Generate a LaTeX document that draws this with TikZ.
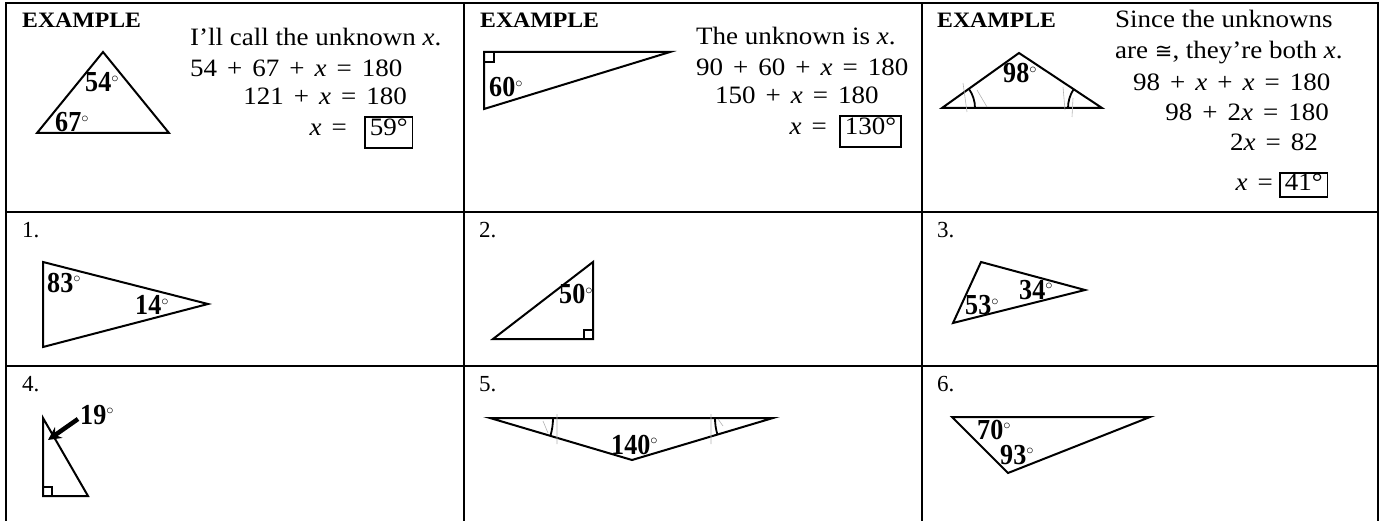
\documentclass[tikz,border=0pt]{standalone}
\usepackage{fontspec}
\setmainfont{Liberation Serif}
\newfontfamily\cambfont{Liberation Serif}[FakeStretch=1.08]
\newfontfamily\labfont{Liberation Serif}[FakeStretch=0.9]
\newfontfamily\symfont{DejaVu Sans}
\usetikzlibrary{positioning,arrows.meta}
\newcommand\gp{\hspace{0.4em}}
\newcommand\opp{\gp+\gp}
\newcommand\oeq{\gp=\gp}
\newcommand\vx{\textit{x}}
\newcommand\dg{$^{\scriptscriptstyle\circ}$}

\begin{document}
\begin{tikzpicture}[
    x=1pt, y=-1pt,
    grid/.style={line width=2.2pt, line cap=rect},
    tri/.style={line width=2pt, line join=miter},
    ang/.style={line width=1.8pt},
    ghost/.style={line width=0.6pt, draw=black!30},
    head/.style={anchor=base west, inner sep=0pt, font=\cambfont\bfseries\fontsize{22}{26}\selectfont},
    txt/.style={anchor=base west, inner sep=0pt, font=\cambfont\fontsize{25}{28}\selectfont},
    num/.style={anchor=base west, inner sep=0pt, font=\fontsize{23}{26}\selectfont},
    lab/.style={anchor=base west, inner sep=0pt, font=\labfont\bfseries\fontsize{29}{30}\selectfont},
    ans/.style={draw, line width=1.5pt, anchor=base west, inner xsep=5pt, inner ysep=0pt, text height=19pt, text depth=12pt, font=\cambfont\fontsize{25}{28}\selectfont},
    arr/.style={-{Stealth[length=13pt, width=13pt]}, line width=4.5pt},
]
    \useasboundingbox (0,0) rectangle (1381,521);

    % --- Table grid ---
    \draw[grid] (6,3) -- (1378,3);
    \draw[grid] (6,212) -- (1378,212);
    \draw[grid] (6,366) -- (1378,366);
    \foreach \cx in {6,464,922,1378}
        \draw[grid] (\cx,3) -- (\cx,521);

    % --- Example 1 ---
    \node[head] (h1) at (22,28) {EXAMPLE};
    \coordinate (e1a) at (103,52);
    \coordinate (e1b) at (37,133);
    \coordinate (e1c) at (169,133);
    \draw[tri] (e1a) -- (e1b) -- (e1c) -- cycle;
    \node[lab] (e1p) at (85,92) {54\dg};
    \node[lab] (e1q) at (55,132) {67\dg};
    \node[txt] (c1l1) at (190,46) {I’ll call the unknown \vx.};
    \node[txt] (c1l2) at (190,77) {54\opp67\opp\vx\oeq180};
    \node[txt, anchor=base east] (c1l3) at (407,105) {121\opp\vx\oeq180};
    \node[txt, anchor=base east] (c1l4) at (347,136) {\vx\gp=};
    \node[ans] (c1ans) at (364,136) {59°};

    % --- Example 2 ---
    \node[head] (h2) at (480,28) {EXAMPLE};
    \coordinate (e2a) at (484,52);
    \coordinate (e2b) at (670,52);
    \coordinate (e2c) at (484,109);
    \draw[tri] (e2a) -- (e2b) -- (e2c) -- cycle;
    \draw[line width=1.5pt] (e2a) rectangle ++(10,10);
    \node[lab] (e2p) at (489,97) {60\dg};
    \node[txt] (c2l1) at (696,45) {The unknown is \vx.};
    \node[txt] (c2l2) at (696,76) {90\opp60\opp\vx\oeq180};
    \node[txt] (c2l3) at (715,104) {150\opp\vx\oeq180};
    \node[txt, anchor=base east] (c2l4) at (827,135) {\vx\gp=};
    \node[ans] (c2ans) at (839,135) {130°};

    % --- Example 3 ---
    \node[head] (h3) at (937,28) {EXAMPLE};
    \coordinate (e3a) at (1019,53);
    \coordinate (e3b) at (942,108);
    \coordinate (e3c) at (1102,108);
    \draw[tri] (e3a) -- (e3b) -- (e3c) -- cycle;
    \draw[ang] (e3b) ++(0:33) arc[start angle=0, end angle=-35.5, radius=33];
    \draw[ang] (e3c) ++(180:34) arc[start angle=180, end angle=213.5, radius=34];
    \draw[ghost] (963,83) -- (967,112) (977,90) -- (987,107);
    \draw[ghost] (1063,87) -- (1065,110) (1073,98) -- (1072,117);
    \node[lab] (e3p) at (1003,83) {98\dg};
    \node[txt] (c3l1) at (1115,28) {Since the unknowns};
    \node[txt] (c3l2) at (1115,59) {are {\symfont\fontsize{21}{26}\selectfont ≅}, they’re both \vx.};
    \node[txt] (c3l3) at (1133,91) {98\opp\vx\opp\vx\oeq180};
    \node[txt, anchor=base east] (c3l4) at (1329,121) {98\opp2\vx\oeq180};
    \node[txt, anchor=base east] (c3l5) at (1318,151) {2\vx\oeq82};
    \node[txt, anchor=base east] (c3l6) at (1273,191) {\vx\gp=};
    \node[ans, text height=18pt, text depth=6pt] (c3ans) at (1279,191) {41°};

    % --- Row 1: problems 1-3 ---
    \node[num] (n1) at (22,238) {1.};
    \coordinate (t1a) at (43,262);
    \coordinate (t1b) at (43,347);
    \coordinate (t1c) at (208,304);
    \draw[tri] (t1a) -- (t1b) -- (t1c) -- cycle;
    \node[lab] (t1p) at (47,292) {83\dg};
    \node[lab] (t1q) at (135,315) {14\dg};

    \node[num] (n2) at (479,238) {2.};
    \coordinate (t2a) at (493,339);
    \coordinate (t2b) at (593,339);
    \coordinate (t2c) at (593,262);
    \draw[tri] (t2a) -- (t2b) -- (t2c) -- cycle;
    \draw[line width=1.5pt] (t2b) rectangle ++(-9,-9);
    \node[lab] (t2p) at (559,304) {50\dg};

    \node[num] (n3) at (937,238) {3.};
    \coordinate (t3a) at (981,262);
    \coordinate (t3b) at (953,323);
    \coordinate (t3c) at (1085,290);
    \draw[tri] (t3a) -- (t3b) -- (t3c) -- cycle;
    \node[lab] (t3p) at (965,315) {53\dg};
    \node[lab] (t3q) at (1019,299) {34\dg};

    % --- Row 2: problems 4-6 ---
    \node[num] (n4) at (22,391) {4.};
    \coordinate (t4a) at (43,418);
    \coordinate (t4b) at (43,496);
    \coordinate (t4c) at (88,496);
    \draw[tri] (t4a) -- (t4b) -- (t4c) -- cycle;
    \draw[line width=1.5pt] (t4b) rectangle ++(9,-9);
    \coordinate (a4s) at (78,419);
    \coordinate (a4t) at (48,440);
    \draw[arr] (a4s) -- (a4t);
    \node[lab] (t4p) at (80,424) {19\dg};

    \node[num] (n5) at (479,391) {5.};
    \coordinate (t5a) at (490,418);
    \coordinate (t5b) at (773,418);
    \coordinate (t5c) at (632,460);
    \draw[tri] (t5a) -- (t5b) -- (t5c) -- cycle;
    \draw[ang] (t5a) ++(0:63) arc[start angle=0, end angle=16.5, radius=63];
    \draw[ang] (t5b) ++(180:58) arc[start angle=180, end angle=163.4, radius=58];
    \draw[ghost] (543,421) -- (548,433) (557,414) -- (557,444);
    \draw[ghost] (711,414) -- (711,444) (718,419) -- (723,426);
    \node[lab] (t5p) at (611,454) {140\dg};

    \node[num] (n6) at (937,391) {6.};
    \coordinate (t6a) at (952,417);
    \coordinate (t6b) at (1150,417);
    \coordinate (t6c) at (1008,473);
    \draw[tri] (t6a) -- (t6b) -- (t6c) -- cycle;
    \node[lab] (t6p) at (977,439) {70\dg};
    \node[lab] (t6q) at (1000,464) {93\dg};

\end{tikzpicture}
\end{document}
